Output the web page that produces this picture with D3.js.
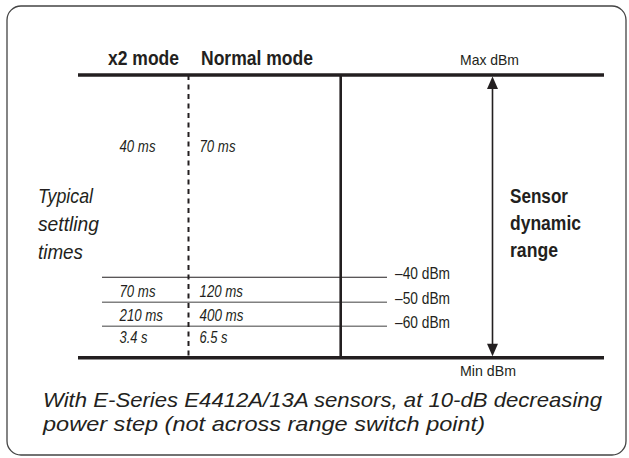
<!DOCTYPE html>
<html><head><meta charset="utf-8">
<script src="https://cdn.jsdelivr.net/npm/d3@7"></script>
<style>body{margin:0;background:#fff}</style></head>
<body><svg id="c" width="629" height="458"></svg>
<script>
// ---- data ----
const modes = ["x2 mode", "Normal mode"];
const levelsDbm = [-40, -50, -60];
const levelLabels = ["–40 dBm", "–50 dBm", "–60 dBm"];
const rangeDbm = [20, -70];
const rangeLabels = ["Max dBm", "Min dBm"];
const x2Times = ["40 ms", "70 ms", "210 ms", "3.4 s"];
const normalTimes = ["70 ms", "120 ms", "400 ms", "6.5 s"];
const rowAnchorDbm = [-2.8, -47.8, -57.7, -65.3];
const sideTitle = ["Typical", "settling", "times"];
const rangeTitle = ["Sensor", "dynamic", "range"];
const caption = ["With E-Series E4412A/13A sensors, at 10-dB decreasing",
                 "power step (not across range switch point)"];

// ---- layout ----
const ink = "#231f20";
const svg = d3.select("#c");
const font = "'Liberation Sans Narrow','Liberation Sans',Arial,sans-serif";

const y = d3.scaleLinear()
  .domain([rangeDbm[0], levelsDbm[0], levelsDbm[1], levelsDbm[2], rangeDbm[1]])
  .range([75, 277.3, 302.3, 326.2, 357.7]);

const colX = d3.scaleOrdinal().domain(modes).range([119.5, 199.5]);
const headX = d3.scaleOrdinal().domain(modes).range([108, 201]);
const headW = d3.scaleOrdinal().domain(modes).range([71, 112]);

function fit(sel, w) { return sel.attr("textLength", w).attr("lengthAdjust", "spacingAndGlyphs"); }

// frame
svg.append("rect").attr("x", 7).attr("y", 6).attr("width", 619).attr("height", 449)
  .attr("rx", 14).attr("fill", "none").attr("stroke", "#444").attr("stroke-width", 1.3);

// thin level lines
svg.selectAll(".lvl").data(levelsDbm).join("line")
  .attr("x1", 102).attr("x2", 387)
  .attr("y1", d => y(d)).attr("y2", d => y(d))
  .attr("stroke", (d, i) => i === 0 ? ink : "#808080")
  .attr("stroke-width", (d, i) => i === 0 ? 1.1 : 1.4);

// dashed divider
svg.append("line").attr("x1", 188.5).attr("x2", 188.5)
  .attr("y1", y(rangeDbm[0])).attr("y2", y(rangeDbm[1]))
  .attr("stroke", ink).attr("stroke-width", 2).attr("stroke-dasharray", "5,4.5");

// solid vertical
svg.append("line").attr("x1", 340.7).attr("x2", 340.7)
  .attr("y1", y(rangeDbm[0])).attr("y2", y(rangeDbm[1]))
  .attr("stroke", ink).attr("stroke-width", 2.6);

// thick max/min lines
svg.selectAll(".rng").data(rangeDbm).join("line")
  .attr("x1", 78).attr("x2", 604)
  .attr("y1", d => y(d)).attr("y2", d => y(d))
  .attr("stroke", ink).attr("stroke-width", 3.6);

// double arrow
const ax = 492.5;
svg.append("line").attr("x1", ax).attr("x2", ax)
  .attr("y1", y(rangeDbm[0]) + 10).attr("y2", y(rangeDbm[1]) - 10)
  .attr("stroke", ink).attr("stroke-width", 1.6);
const t0 = y(rangeDbm[0]) + 1.5, t1 = y(rangeDbm[1]) - 1.5;
svg.append("path").attr("d", `M${ax},${t0} L${ax-5.5},${t0+12.5} L${ax+5.5},${t0+12.5} Z`).attr("fill", ink);
svg.append("path").attr("d", `M${ax},${t1} L${ax-5.5},${t1-12.5} L${ax+5.5},${t1-12.5} Z`).attr("fill", ink);

// headers
svg.selectAll(".head").data(modes).join("text")
  .attr("x", d => headX(d)).attr("y", 65)
  .attr("font-family", font).attr("font-weight", "bold").attr("font-size", 20)
  .attr("fill", ink).text(d => d)
  .each(function (d) { fit(d3.select(this), headW(d)); });

// max/min labels
const rangeLabelW = [59, 56];
svg.selectAll(".rl").data(rangeLabels).join("text")
  .attr("x", 460).attr("y", (d, i) => i === 0 ? 65 : 375.5)
  .attr("font-family", font).attr("font-size", 15).attr("fill", ink)
  .text(d => d)
  .each(function (d, i) { fit(d3.select(this), rangeLabelW[i]); });

// level labels
svg.selectAll(".ll").data(levelLabels).join("text")
  .attr("x", 395).attr("y", (d, i) => y(levelsDbm[i]) + 1.5)
  .attr("font-family", font).attr("font-size", 16).attr("fill", ink)
  .text(d => d)
  .each(function () { fit(d3.select(this), 55); });

// times
const timeW = {"40 ms": 36, "70 ms": 36, "120 ms": 43.5, "210 ms": 43.5, "400 ms": 44, "3.4 s": 28, "6.5 s": 28};
[[modes[0], x2Times], [modes[1], normalTimes]].forEach(([m, arr]) => {
  svg.selectAll(null).data(arr).join("text")
    .attr("x", colX(m)).attr("y", (d, i) => y(rowAnchorDbm[i]))
    .attr("font-family", font).attr("font-style", "italic").attr("font-size", 16)
    .attr("fill", ink).text(d => d)
    .each(function (d) { fit(d3.select(this), timeW[d]); });
});

// side title
const sideW = [55, 61, 45];
svg.selectAll(".st").data(sideTitle).join("text")
  .attr("x", 38).attr("y", (d, i) => 202.7 + i * 28)
  .attr("font-family", font).attr("font-style", "italic").attr("font-size", 21)
  .attr("fill", ink).text(d => d)
  .each(function (d, i) { fit(d3.select(this), sideW[i]); });

// range title
const rangeW = [58, 71, 48];
svg.selectAll(".rt").data(rangeTitle).join("text")
  .attr("x", 510).attr("y", (d, i) => 203.3 + i * 27)
  .attr("font-family", font).attr("font-weight", "bold").attr("font-size", 20)
  .attr("fill", ink).text(d => d)
  .each(function (d, i) { fit(d3.select(this), rangeW[i]); });

// caption
const capW = [559, 442];
svg.selectAll(".cap").data(caption).join("text")
  .attr("x", 43).attr("y", (d, i) => 406.7 + i * 24)
  .attr("font-family", font).attr("font-style", "italic").attr("font-size", 21)
  .attr("fill", ink).text(d => d)
  .each(function (d, i) { fit(d3.select(this), capW[i]); });
</script></body></html>
